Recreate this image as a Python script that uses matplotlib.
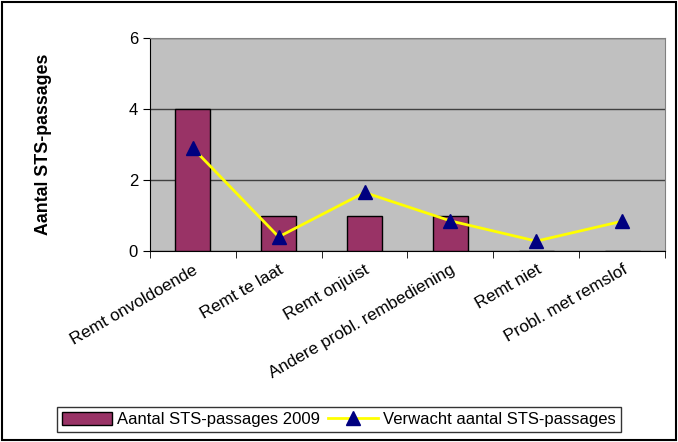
import numpy as np
import matplotlib.pyplot as plt

plt.rcParams['font.family'] = ['Liberation Sans', 'DejaVu Sans']

categories = ['Remt onvoldoende', 'Remt te laat', 'Remt onjuist',
              'Andere probl. rembediening', 'Remt niet', 'Probl. met remslof']
aantal_2009 = [4, 1, 1, 1, 0, 0]
verwacht = [2.9, 0.4, 1.65, 0.85, 0.28, 0.84]

fig = plt.figure(figsize=(6.78, 4.42), dpi=100)
ax = fig.add_axes([0.221, 0.432, 0.760, 0.482])
ax.set_facecolor('#C0C0C0')

x = np.arange(len(categories))
bars = ax.bar(x, aantal_2009, width=0.41, color='#993366', edgecolor='black',
              linewidth=1, zorder=3, label='Aantal STS-passages 2009')
line, = ax.plot(x, verwacht, color='#FFFF00', linewidth=2, marker='^', markersize=10,
                markerfacecolor='#000080', markeredgecolor='#000080', zorder=4,
                label='Verwacht aantal STS-passages')

ax.set_xlim(-0.5, len(categories) - 0.5)
ax.set_ylim(0, 6)
ax.set_yticks([0, 2, 4, 6])
ax.yaxis.grid(True, color='#404040', linewidth=1, zorder=1)
ax.set_axisbelow(True)

ax.set_xticks(x)
ax.set_xticklabels(categories, rotation=30, ha='right', rotation_mode='anchor',
                   fontsize=12.3)
ax.tick_params(axis='x', length=0, pad=8)
ax.set_xticks(np.arange(-0.5, len(categories)), minor=True)
ax.tick_params(axis='x', which='minor', length=5, direction='out', color='black')
ax.tick_params(axis='y', length=5, direction='out', labelsize=12)

for side in ['top', 'right']:
    ax.spines[side].set_color('#808080')
ax.spines['left'].set_color('black')
ax.spines['bottom'].set_color('black')

ax.set_ylabel('Aantal STS-passages', fontsize=12.8, fontweight='bold', labelpad=55)

leg = fig.legend([bars, line], ['Aantal STS-passages 2009', 'Verwacht aantal STS-passages'],
                 loc='lower center', bbox_to_anchor=(0.5, 0.015), ncol=2,
                 frameon=True, fancybox=False, edgecolor='black', fontsize=12,
                 handlelength=3.0, handleheight=0.8, columnspacing=0.5,
                 handletextpad=0.3, borderpad=0.3, borderaxespad=0.2)
leg.get_frame().set_linewidth(1)

fig.patches.append(plt.Rectangle((0.003, 0.004), 0.994, 0.992, transform=fig.transFigure,
                                 fill=False, edgecolor='black', linewidth=1.5))

fig.savefig('out.png', dpi=100)
